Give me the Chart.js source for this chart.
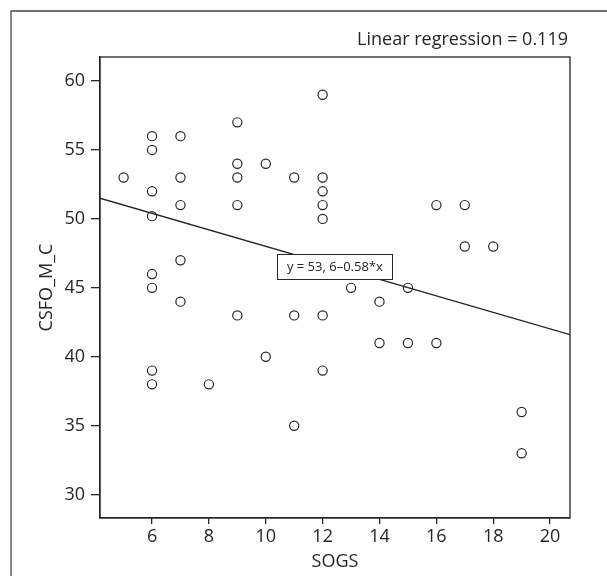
<!DOCTYPE html>
<html>
<head>
<meta charset="utf-8">
<script src="https://cdn.jsdelivr.net/npm/chart.js@4"></script>
<style>
  html, body { margin: 0; padding: 0; background: #fff; overflow: hidden; }
  #wrap { width: 607px; height: 576px; position: relative; }
</style>
</head>
<body>
<div id="wrap"><canvas id="scatterChart"></canvas></div>
<script>
// SOGS score (x) against CSFO_M_C (y), one entry per subject
const sogs = [5, 6, 6, 6, 6, 6, 6, 6, 6, 7, 7, 7, 7, 7, 8, 9, 9, 9, 9, 9, 10, 10,
              11, 11, 11, 12, 12, 12, 12, 12, 12, 12, 13, 14, 14, 15, 15, 16, 16, 17, 17, 18, 19, 19];
const csfo = [53, 56, 55, 52, 50.2, 46, 45, 39, 38, 56, 53, 51, 47, 44, 38, 57, 54, 53, 51, 43, 54, 40,
              53, 43, 35, 59, 53, 52, 51, 50, 43, 39, 45, 44, 41, 45, 41, 51, 41, 51, 48, 48, 36, 33];

// fitted line as drawn, read at the axis ends
const fitX = [4.17, 20.7];
const fitY = [51.5, 41.6];

const xTicks = [6, 8, 10, 12, 14, 16, 18, 20];
const yTicks = [30, 35, 40, 45, 50, 55, 60];

const fitLabel = 'y = 53, 6\u20130.58*x';
const fitLabelAt = { x: 12.43, y: 46.53 };
const rsqText = 'Linear regression = 0.119';

const ink = '#262626';
const font = 'Open Sans';

const points = sogs.map((x, i) => ({ x: x, y: csfo[i] }));
const fitLine = fitX.map((x, i) => ({ x: x, y: fitY[i] }));

const decorations = {
    id: 'decorations',
    beforeDraw(chart) {
        const { ctx } = chart;
        ctx.save();
        ctx.strokeStyle = '#444';
        ctx.lineWidth = 1.3;
        ctx.beginPath();
        ctx.moveTo(11, 576);
        ctx.lineTo(11, 11);
        ctx.lineTo(607, 11);
        ctx.stroke();
        ctx.restore();
    },
    afterDraw(chart) {
        const { ctx, chartArea, scales } = chart;
        ctx.save();
        // plot frame
        ctx.strokeStyle = ink;
        ctx.lineWidth = 1.3;
        ctx.strokeRect(chartArea.left, chartArea.top, chartArea.right - chartArea.left, chartArea.bottom - chartArea.top);

        // r squared text
        ctx.fillStyle = ink;
        ctx.font = '18px "' + font + '"';
        ctx.textAlign = 'right';
        ctx.textBaseline = 'alphabetic';
        ctx.fillText(rsqText, chartArea.right - 2, chartArea.top - 12);

        // equation box
        const cx = scales.x.getPixelForValue(fitLabelAt.x);
        const cy = scales.y.getPixelForValue(fitLabelAt.y);
        const w = 115, h = 25;
        ctx.fillStyle = '#fff';
        ctx.fillRect(cx - w / 2, cy - h / 2, w, h);
        ctx.lineWidth = 1;
        ctx.strokeRect(Math.round(cx - w / 2) + 0.5, Math.round(cy - h / 2) + 0.5, w, h);
        ctx.fillStyle = ink;
        ctx.font = '13px "' + font + '"';
        ctx.textAlign = 'center';
        ctx.textBaseline = 'middle';
        ctx.fillText(fitLabel, cx, cy + 1);
        ctx.restore();
    }
};

const chartConfig = {
    type: 'scatter',
    data: {
        datasets: [
            {
                type: 'line',
                data: fitLine,
                borderColor: ink,
                borderWidth: 1.3,
                pointRadius: 0,
                fill: false,
                order: 2,
            },
            {
                data: points,
                pointStyle: 'circle',
                pointRadius: 4.6,
                borderWidth: 1.2,
                borderColor: ink,
                backgroundColor: 'rgba(255,255,255,0)',
                order: 1,
            },
        ],
    },
    options: {
        responsive: true,
        maintainAspectRatio: false,
        animation: false,
        devicePixelRatio: 1,
        layout: { padding: { left: 0, top: 57, right: 37, bottom: 0 } },
        plugins: {
            legend: { display: false },
            tooltip: { enabled: false },
        },
        scales: {
            x: {
                type: 'linear',
                min: 4.17,
                max: 20.7,
                afterFit: (scale) => { scale.height = 58; },
                afterBuildTicks: (scale) => { scale.ticks = xTicks.map((v) => ({ value: v })); },
                grid: { drawOnChartArea: false, drawTicks: true, tickLength: 6, color: ink, lineWidth: 1.3 },
                border: { display: true, color: ink, width: 1.3 },
                ticks: { color: ink, font: { family: font, size: 18 }, padding: 2, maxRotation: 0 },
                title: { display: true, text: 'SOGS', color: ink, font: { family: font, size: 18 }, padding: { top: 0, bottom: 3 } },
            },
            y: {
                type: 'linear',
                min: 28.31,
                max: 61.74,
                afterFit: (scale) => { scale.width = 100; },
                afterBuildTicks: (scale) => { scale.ticks = yTicks.map((v) => ({ value: v })); },
                grid: { drawOnChartArea: false, drawTicks: true, tickLength: 9, color: ink, lineWidth: 1.3 },
                border: { display: true, color: ink, width: 1.3 },
                ticks: { color: ink, font: { family: font, size: 18 }, padding: 6 },
                title: { display: true, text: 'CSFO_M_C', color: ink, font: { family: font, size: 18 }, padding: { top: 36, bottom: 0 } },
            },
        },
    },
    plugins: [decorations],
};

const ctx = document.getElementById('scatterChart').getContext('2d');
new Chart(ctx, chartConfig);
</script>
</body>
</html>
